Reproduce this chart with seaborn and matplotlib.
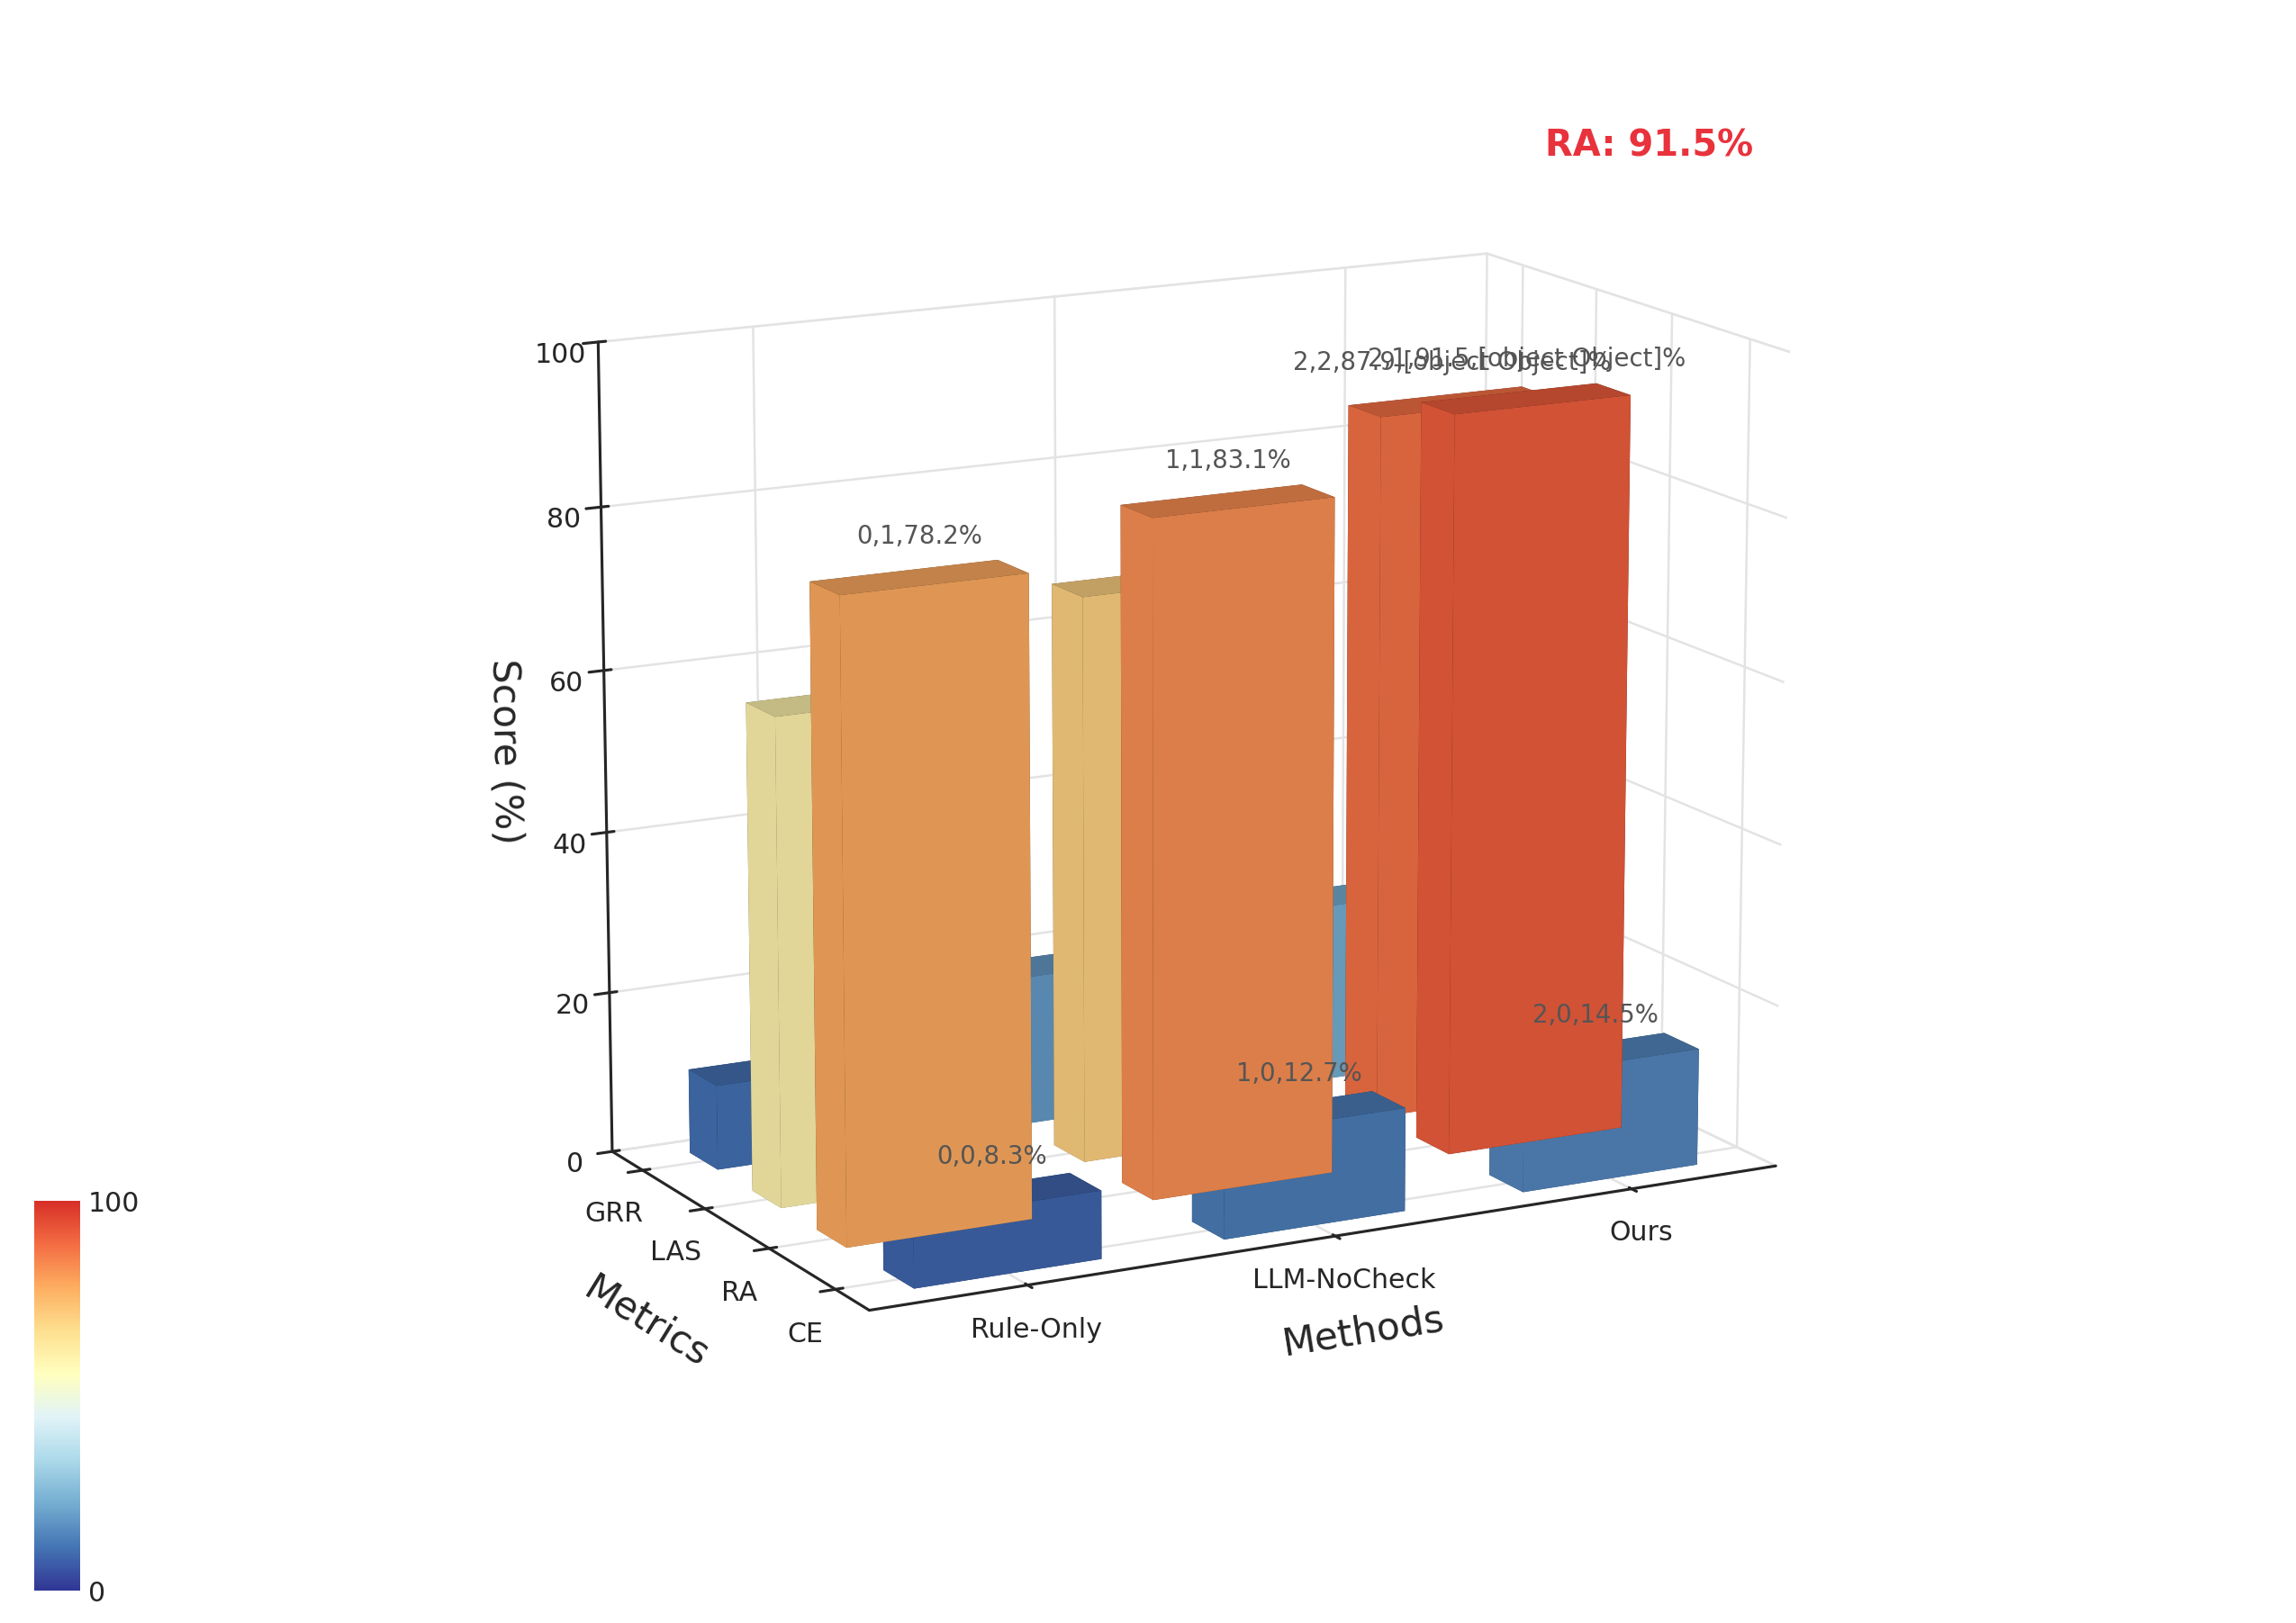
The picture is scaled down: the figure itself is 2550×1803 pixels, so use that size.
import numpy as np
import matplotlib
matplotlib.use("Agg")
import matplotlib.pyplot as plt
import seaborn as sns
from matplotlib import cm, colors

sns.set_theme(style="white")
plt.rcParams['font.family'] = ['DejaVu Sans']

methods = ["Rule-Only", "LLM-NoCheck", "Ours"]
metrics = ["CE", "RA", "LAS", "GRR"]
ce = [8.3, 12.7, 14.5]
ra = [78.2, 83.1, 91.5]
las = [60.0, 70.0, 87.9]
grr = [10.5, 18.6, 22.3]
values = [ce, ra, las, grr]

cmap = colors.LinearSegmentedColormap.from_list(
    "vm", ["#313695", "#4575b4", "#74add1", "#abd9e9", "#e0f3f8", "#ffffbf",
           "#fee090", "#fdae61", "#f46d43", "#d73027"])
norm = colors.Normalize(0, 100)

fig = plt.figure(figsize=(14.17, 10.02), dpi=180)
ax = fig.add_axes([0.1, 0.04, 0.82, 0.96], projection="3d")

dx, dy = 0.6, 0.45
for mi, series in enumerate(values):
    for xi, v in enumerate(series):
        ax.bar3d(xi - dx / 2, mi - dy / 2, 0, dx, dy, v,
                 color=cmap(norm(v)), shade=True, edgecolor="none")

labels = {(0, 0): "0,0,8.3%", (1, 0): "1,0,12.7%", (2, 0): "2,0,14.5%",
          (0, 1): "0,1,78.2%", (1, 1): "1,1,83.1%",
          (2, 1): "2,1,91.5,[object Object]%", (2, 2): "2,2,87.9,[object Object]%"}
for (xi, mi), t in labels.items():
    v = values[mi][xi]
    ax.text(xi, mi, v + 4, t, fontsize=11, color="#555", ha="center", zorder=20)

ax.set_xticks(range(3))
ax.set_xticklabels(methods, fontsize=12)
ax.set_yticks(range(4))
ax.set_yticklabels(metrics, fontsize=12)
ax.set_zlim(0, 100)
ax.set_zticks([0, 20, 40, 60, 80, 100])
ax.set_zticklabels(["0", "20", "40", "60", "80", "100"], fontsize=12)
ax.set_xlim(-0.5, 2.5)
ax.set_ylim(-0.5, 3.5)
ax.set_xlabel("Methods", fontsize=17, labelpad=14)
ax.set_ylabel("Metrics", fontsize=17, labelpad=14)
ax.set_zlabel("Score (%)", fontsize=17, labelpad=10)
ax.view_init(elev=14, azim=-118)
ax.set_box_aspect((1.7, 1.0, 1.4), zoom=0.9)
for a in (ax.xaxis, ax.yaxis, ax.zaxis):
    a.pane.fill = False
    a.pane.set_edgecolor("#dddddd")
    a._axinfo["grid"]["color"] = "#e3e3e3"

cax = fig.add_axes([0.015, 0.02, 0.02, 0.24])
cb = fig.colorbar(cm.ScalarMappable(norm=norm, cmap=cmap), cax=cax)
cb.set_ticks([0, 100])
cb.outline.set_visible(False)
cb.ax.tick_params(labelsize=12, length=0)

ax.text2D(0.74, 0.90, "RA: 91.5%", transform=ax.transAxes, color="#e8323c",
          fontsize=16, fontweight="bold")

fig.savefig("out.png", dpi=180)
